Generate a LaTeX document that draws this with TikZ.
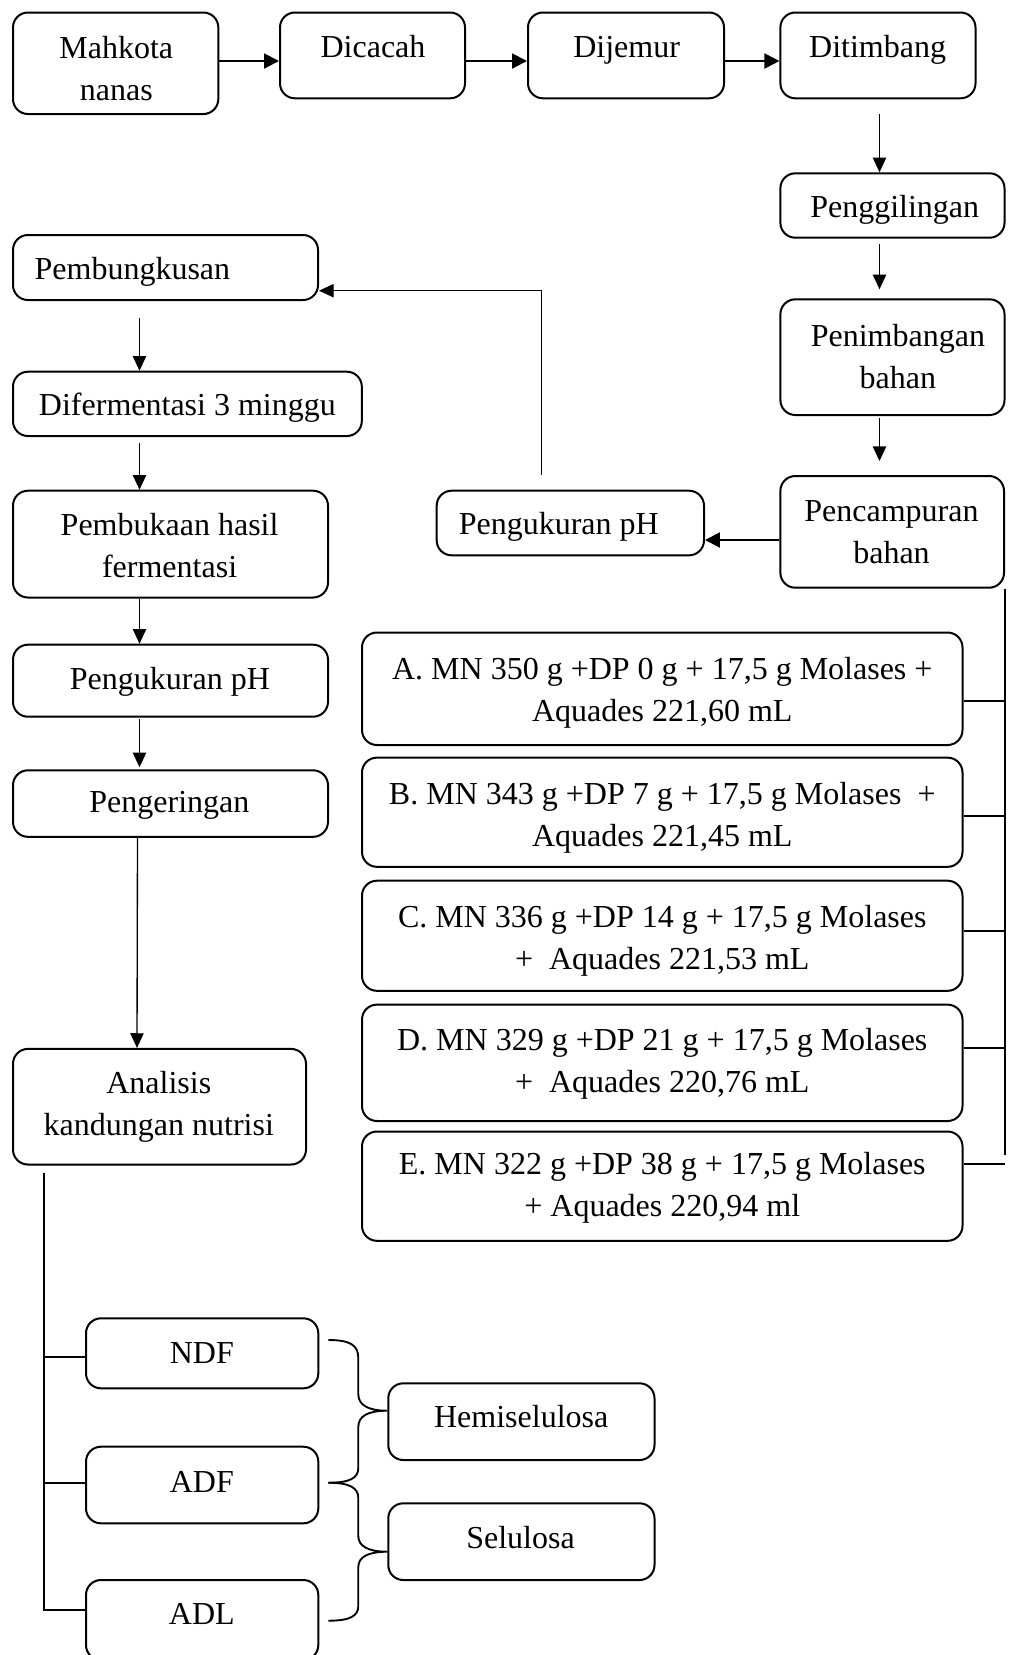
\documentclass[tikz,border=0pt]{standalone}
\usepackage{fontspec}
\setmainfont{Liberation Serif}
\usetikzlibrary{arrows.meta,calc}
\newcommand\bx[5]{\node[box, minimum width={(#4-#2)*0.375pt}, minimum height={(#5-#3)*0.375pt}] (#1) at ({(#2+#4)/2},{(#3+#5)/2}) {};}
\newcommand\tx[4]{\node[txt] (#1) at (#2,#3) {#4};}
\begin{document}
\begin{tikzpicture}[x=0.375pt,y=-0.375pt,
  box/.style={draw, rounded corners=5.6pt, line width=0.75pt, inner sep=0pt},
  txt/.style={font=\fontsize{12}{15.75}\selectfont, align=center, inner sep=0pt, yshift=-0.9pt},
  arr/.style={-{Triangle[length=5.5pt,width=5pt]}, line width=0.5pt},
  arrT/.style={-{Triangle[length=5.6pt,width=5.6pt]}, line width=0.8pt},
  ln/.style={line width=0.7pt}]
\useasboundingbox (0,0) rectangle (1013,1655);
% boxes
\bx{mahkota}{13}{12.5}{218.3}{114}
\bx{dicacah}{280}{12.5}{465}{98.3}
\bx{dijemur}{528}{12.5}{724}{98.3}
\bx{ditimbang}{780.4}{12.5}{975.5}{98.3}
\bx{penggilingan}{780.4}{173.3}{1004.5}{237.7}
\bx{penimbangan}{780.4}{299.3}{1004.5}{415}
\bx{pencampuran}{780.4}{476}{1004}{587.7}
\bx{phR}{436.7}{490.7}{704}{555.3}
\bx{pembungkusan}{13}{235}{318}{300}
\bx{difermentasi}{13}{371.7}{361.8}{436}
\bx{pembukaan}{13}{490.7}{328}{597.5}
\bx{phL}{13}{644.7}{328}{716.7}
\bx{pengeringan}{13}{770.3}{328}{836.8}
\bx{analisis}{13}{1048.9}{306}{1164.5}
\bx{ndf}{86}{1318.3}{318.3}{1388.3}
\bx{adf}{86}{1446.7}{318.3}{1523.3}
\bx{adl}{86}{1580}{318.3}{1660}
\bx{hemi}{388.3}{1383.3}{654.5}{1460}
\bx{selulosa}{388.3}{1503.3}{654.5}{1580}
\bx{fa}{362}{632.5}{962.5}{745}
\bx{fb}{362}{757.6}{962.5}{866.8}
\bx{fc}{362}{880.7}{962.5}{990.8}
\bx{fd}{362}{1004.6}{962.5}{1121}
\bx{fe}{362}{1131.5}{962.5}{1240.8}
% texts
\tx{t1}{116.3}{68.3}{\strut Mahkota\\\strut nanas}
\tx{t2}{373}{46.6}{\strut Dicacah}
\tx{t3}{626.6}{46.6}{\strut Dijemur}
\tx{t4}{877.6}{46.6}{\strut Ditimbang}
\tx{t5}{894.7}{206.6}{\strut Penggilingan}
\tx{t6}{897.9}{356.6}{\strut Penimbangan\\\strut bahan}
\tx{t7}{891.5}{531.6}{\strut Pencampuran\\\strut bahan}
\tx{t8}{558.8}{523.3}{\strut Pengukuran pH}
\tx{t9}{132.4}{268.3}{\strut Pembungkusan}
\tx{t10}{187.4}{405}{\strut Difermentasi 3 minggu}
\tx{t11}{169.6}{545.8}{\strut Pembukaan hasil\\\strut fermentasi}
\tx{t12}{169.9}{678.3}{\strut Pengukuran pH}
\tx{t13}{169.4}{802}{\strut Pengeringan}
\tx{t14}{158.8}{1103.4}{\strut Analisis\\\strut kandungan nutrisi}
\tx{t15}{201.8}{1352.3}{\strut NDF}
\tx{t16}{201.8}{1481.6}{\strut ADF}
\tx{t17}{201.8}{1613.3}{\strut ADL}
\tx{t18}{521.2}{1416.6}{\strut Hemiselulosa}
\tx{t19}{520.5}{1537.3}{\strut Selulosa}
\tx{t20}{662.3}{689.3}{\strut A. MN 350 g +DP 0 g + 17,5 g Molases +\\\strut Aquades 221,60 mL}
\tx{t21}{662.3}{814.3}{\strut B. MN 343 g +DP 7 g + 17,5 g Molases\ \ +\\\strut Aquades 221,45 mL}
\tx{t22}{662.3}{937.2}{\strut C. MN 336 g +DP 14 g + 17,5 g Molases\\\strut +\ \ Aquades 221,53 mL}
\tx{t23}{662.3}{1061.1}{\strut D. MN 329 g +DP 21 g + 17,5 g Molases\\\strut +\ \ Aquades 220,76 mL}
\tx{t24}{662.3}{1185.1}{\strut E. MN 322 g +DP 38 g + 17,5 g Molases\\\strut + Aquades 220,94 ml}
% helper coordinates
\coordinate (rowy) at (0,61);
\coordinate (vx) at (879.5,0);
\coordinate (lx) at (139.5,0);
\coordinate (ky) at (541.3,290.7);
\coordinate (phy) at (0,540);
\coordinate (ax) at (43.75,1172.7);
\coordinate (b1) at (0,1357.3);
\coordinate (b2) at (0,1483.3);
\coordinate (b3) at (0,1610);
\coordinate (rx) at (1005,588);
\coordinate (rend) at (1005,1155);
% top row
\draw[arrT] (mahkota.east |- rowy) -- (dicacah.west |- rowy);
\draw[arrT] (dicacah.east |- rowy) -- (dijemur.west |- rowy);
\draw[arrT] (dijemur.east |- rowy) -- (ditimbang.west |- rowy);
% right column
\draw[arr] ($(ditimbang.south -| vx)+(0,15)$) -- (penggilingan.north -| vx);
\draw[arr] ($(penggilingan.south -| vx)+(0,5.5)$) -- ($(penimbangan.north -| vx)+(0,-9)$);
\draw[arr] ($(penimbangan.south -| vx)+(0,1.7)$) -- ($(pencampuran.north -| vx)+(0,-14)$);
\draw[arrT] (pencampuran.west |- phy) -- (phR.east |- phy);
\draw[arr] ($(phR.north -| ky)+(0,-15)$) |- (pembungkusan.east |- ky);
% left column
\draw[arr] ($(pembungkusan.south -| lx)+(0,16.7)$) -- (difermentasi.north -| lx);
\draw[arr] ($(difermentasi.south -| lx)+(0,5.7)$) -- (pembukaan.north -| lx);
\draw[arr] (pembukaan.south -| lx) -- (phL.north -| lx);
\draw[arr] ($(phL.south -| lx)+(0,1.3)$) -- ($(pengeringan.north -| lx)+(0,-2)$);
\draw[arr] ($(pengeringan.south)+(-33,0)$) -- ($(analisis.north)+(-22.5,0)$);
% analysis branches
\draw[ln] (ax) |- (adl.west |- b3);
\draw[ln] (ax |- b1) -- (ndf.west |- b1);
\draw[ln] (ax |- b2) -- (adf.west |- b2);
% formulation bus
\draw[ln] (pencampuran.south -| rx) -- (rend);
\foreach \n/\yy in {fa/700.8, fb/816.4, fc/930.7, fd/1048.3, fe/1164.3}{
  \draw[ln] (\n.east |- 0,\yy) -- (rx |- 0,\yy);
}
% braces
\coordinate (tip1) at (387.3,1410.7);
\coordinate (tip2) at (387.3,1551.7);
\draw[ln] (328.3,1340) .. controls (350,1340) and (358.3,1345) .. (358.3,1358)
  -- (358.3,1394) .. controls (358.3,1405) and (368,1410.7) .. (tip1)
  .. controls (368,1410.7) and (358.3,1416) .. (358.3,1427)
  -- (358.3,1468) .. controls (358.3,1478) and (350,1482.7) .. (328.3,1482.7);
\draw[ln] (328.3,1482.7) .. controls (350,1482.7) and (358.3,1488) .. (358.3,1498)
  -- (358.3,1536) .. controls (358.3,1546) and (368,1551.7) .. (tip2)
  .. controls (368,1551.7) and (358.3,1557) .. (358.3,1567)
  -- (358.3,1606) .. controls (358.3,1616) and (350,1620.7) .. (328.3,1620.7);
\end{tikzpicture}
\end{document}
